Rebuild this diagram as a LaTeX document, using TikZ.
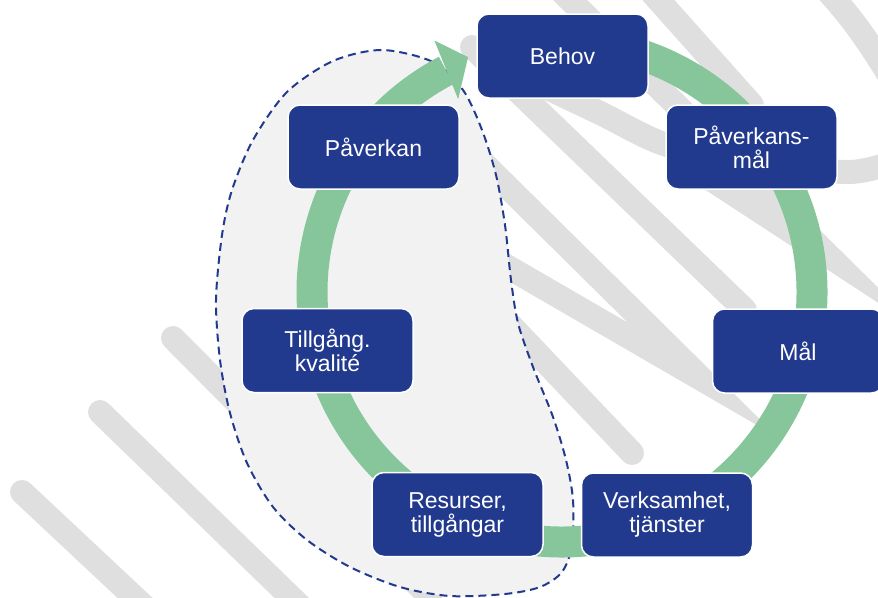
\documentclass[tikz,border=0pt]{standalone}
\usepackage{fontspec}
\setmainfont{Liberation Sans}
\usepackage{xcolor}
\usetikzlibrary{positioning}

\definecolor{boxblue}{RGB}{34,58,142}
\definecolor{ringgreen}{RGB}{134,198,154}
\definecolor{scribble}{RGB}{223,223,223}
\definecolor{blobgray}{RGB}{242,242,242}

\begin{document}
\begin{tikzpicture}[x=1pt,y=-1pt,
  stage/.style={rectangle,rounded corners=12pt,fill=boxblue,draw=white,line width=1.5pt,
    minimum width=171pt,minimum height=84pt,text=white,align=center,
    font=\fontsize{23}{24}\selectfont},
  scrib/.style={draw=scribble,line width=24pt,line cap=round}]
  \useasboundingbox (0,0) rectangle (878,597);
  % background scribble
  \draw[scrib] (22,492) -- (150,612);
  \draw[scrib] (100,412) -- (300,606);
  \draw[scrib] (173,338) -- (430,597);
  \draw[scrib] (472,47) -- (745,310);
  \draw[scrib] (460,140) -- (703,380) -- (470,245);
  \draw[scrib] (480,293) -- (632,453);
  \draw[scrib] (555,-15) -- (830,257) -- (700,172);
  \draw[scrib] (645,-15) -- (752,105);
  \draw[scrib] plot[smooth] coordinates {(520,75) (600,113) (667,145) (760,163) (850,172) (900,160)};
  \draw[scrib] (822,-15) .. controls (850,15) and (868,40) .. (895,85);
  % dashed area
  \filldraw[fill=blobgray,draw=boxblue,line width=2pt,dash pattern=on 8pt off 5pt]
    plot[smooth cycle] coordinates {(382,50) (433,62) (463,90) (482,130) (496,175)
      (505,225) (511,280) (518,323) (533,367) (553,417) (566,460) (573,500) (572,545)
      (562,572) (540,587) (505,594) (450,596) (400,587) (350,567) (307,540) (273,507)
      (247,463) (230,413) (220,360) (216,300) (222,235) (232,190) (253,140) (287,92)
      (333,61)};
  % cycle ring
  \coordinate (ctr) at (562,292);
  \draw[ringgreen,line width=31pt] ([shift={(-95:250)}]ctr) arc[start angle=-95,end angle=242.4,radius=250];
  \fill[ringgreen] ([shift={(241.7:219)}]ctr) -- ([shift={(248.2:253)}]ctr)
    -- ([shift={(243.1:282)}]ctr) -- cycle;
  % stages
  \node[stage] (behov) at (562.5,56) {Behov};
  \node[stage] (pmal) at (751.5,147) {Påverkans-\\mål};
  \node[stage] (mal) at (798,351) {Mål};
  \node[stage] (verks) at (667,515) {Verksamhet,\\tjänster};
  \node[stage] (resurs) at (457.5,514.5) {Resurser,\\tillgångar};
  \node[stage] (tillg) at (327.5,350.5) {Tillgång.\\kvalité};
  \node[stage] (paverk) at (373.5,147) {Påverkan};
\end{tikzpicture}
\end{document}
